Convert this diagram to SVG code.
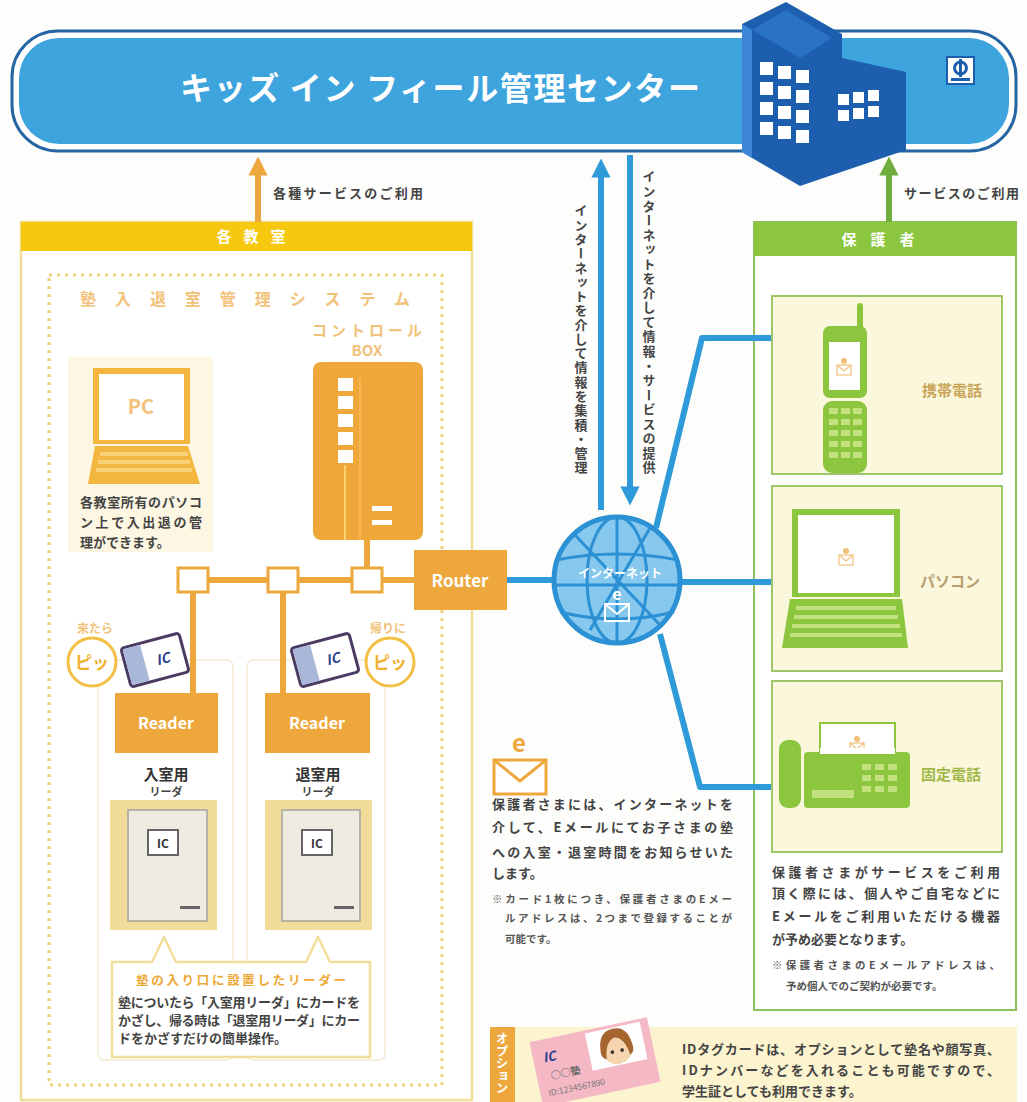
<svg xmlns="http://www.w3.org/2000/svg" width="1027" height="1102" viewBox="0 0 1027 1102">
  <defs>
    <style>
      text { font-family: "Noto Sans CJK JP", "Noto Sans", sans-serif; }
      .body { fill: #444; font-size: 13px; font-weight: 700; }
      .note { fill: #555; font-size: 10.5px; font-weight: 700; }
      .hdr { fill: #fff; font-size: 15px; font-weight: 700; }
      .lightor { fill: #f2c27a; font-weight: 700; }
      .conn-o { stroke: #eea73c; stroke-width: 6; fill: none; }
      .conn-b { stroke: #2e9ad9; stroke-width: 6; fill: none; stroke-linejoin: round; }
      .junc { fill: #fff; stroke: #eea73c; stroke-width: 3; }
      .card { fill: #fbf7dc; stroke: #9cc66a; stroke-width: 2; }
      .dev-label { font-size: 15px; font-weight: 700; }
      .key { fill: #c3e27f; }
    </style>
    <marker id="head-o" viewBox="0 0 10 10" refX="5" refY="5" markerWidth="3.2" markerHeight="3.2" orient="auto">
      <path d="M0,0 L10,5 L0,10 Z" fill="#eea73c"/>
    </marker>
    <marker id="head-b" viewBox="0 0 10 10" refX="5" refY="5" markerWidth="3.2" markerHeight="3.2" orient="auto">
      <path d="M0,0 L10,5 L0,10 Z" fill="#2e9ad9"/>
    </marker>
    <marker id="head-g" viewBox="0 0 10 10" refX="5" refY="5" markerWidth="3.2" markerHeight="3.2" orient="auto">
      <path d="M0,0 L10,5 L0,10 Z" fill="#6fae3c"/>
    </marker>
    <g id="mail-small">
      <rect x="-7" y="-5" width="14" height="10" fill="#fff" stroke="#f0c07a" stroke-width="1.2"/>
      <path d="M-7,-5 L0,1 L7,-5" fill="none" stroke="#f0c07a" stroke-width="1.2"/>
      <circle cx="0" cy="-9" r="3" fill="#f0c07a"/>
    </g>
  </defs>

  <rect width="1027" height="1102" fill="#fdfdfb"/>

  <!-- management center banner -->
  <g id="center">
    <rect x="12" y="31" width="1004" height="120" rx="46" fill="#fff" stroke="#2565a3" stroke-width="3"/>
    <rect x="19" y="38" width="990" height="106" rx="40" fill="#3ea4de"/>
    <text x="180" y="100" fill="#fff" font-size="32" font-weight="700" textLength="520">キッズ イン フィール管理センター</text>
    <!-- building -->
    <path d="M742,24 L786,2 L842,34 L842,58 L906,72 L906,150 L800,186 L742,152 Z" fill="#1d5fae"/>
    <path d="M742,24 L752,30 L752,158 L742,152 Z" fill="#3d86d6"/>
    <path d="M752,30 L786,10 L832,38 L800,58 Z" fill="#2a72c4"/>
    <g fill="#fff">
      <rect x="760" y="62" width="13" height="13"/><rect x="778" y="66" width="13" height="13"/><rect x="796" y="70" width="13" height="13"/>
      <rect x="760" y="82" width="13" height="13"/><rect x="778" y="86" width="13" height="13"/><rect x="796" y="90" width="13" height="13"/>
      <rect x="760" y="102" width="13" height="13"/><rect x="778" y="106" width="13" height="13"/><rect x="796" y="110" width="13" height="13"/>
      <rect x="760" y="122" width="13" height="13"/><rect x="778" y="126" width="13" height="13"/><rect x="796" y="130" width="13" height="13"/>
      <rect x="838" y="94" width="11" height="11"/><rect x="853" y="92" width="11" height="11"/><rect x="868" y="90" width="11" height="11"/>
      <rect x="838" y="110" width="11" height="11"/><rect x="853" y="108" width="11" height="11"/><rect x="868" y="106" width="11" height="11"/>
    </g>
    <!-- logo -->
    <rect x="947" y="57" width="27" height="27" fill="#fff" stroke="#1d5fae" stroke-width="2"/>
    <circle cx="960.5" cy="68" r="6" fill="none" stroke="#1d5fae" stroke-width="3"/>
    <rect x="959" y="59" width="3" height="18" fill="#1d5fae"/>
    <rect x="951" y="78" width="19" height="3" fill="#1d5fae"/>
  </g>

  <!-- school panel (background layer) -->
  <g id="school">
    <rect x="21" y="222" width="451" height="878" fill="#fff" stroke="#f1de96" stroke-width="2.5"/>
    <rect x="21" y="222" width="451" height="29" fill="#f6c80f"/>
    <text x="257" y="242" class="hdr" text-anchor="middle" letter-spacing="12">各教室</text>
  </g>

  <g id="entry-system">
    <rect x="49" y="275" width="393" height="810" fill="none" stroke="#f0d27a" stroke-width="3" stroke-dasharray="3 5"/>
    <text x="80" y="305" class="lightor" font-size="16" textLength="330">塾入退室管理システム</text>
    <rect x="98" y="660" width="135" height="400" rx="6" fill="none" stroke="#f3ead0" stroke-width="1.5"/>
    <rect x="247" y="660" width="138" height="400" rx="6" fill="none" stroke="#f3ead0" stroke-width="1.5"/>
  </g>

  <!-- guardian panel (background layer) -->
  <g id="guardian">
    <rect x="754" y="222" width="262" height="788" fill="#fff" stroke="#8dbf5a" stroke-width="2"/>
    <rect x="754" y="222" width="262" height="34" fill="#8cc63f"/>
    <text x="885" y="245" class="hdr" text-anchor="middle" letter-spacing="14">保護者</text>
    <text x="772" y="877" class="body" font-size="14" textLength="228">保護者さまがサービスをご利用</text>
    <text x="772" y="898" class="body" font-size="14" textLength="228">頂く際には、個人やご自宅などに</text>
    <text x="772" y="921" class="body" font-size="14" textLength="228">Eメールをご利用いただける機器</text>
    <text x="772" y="944" class="body" font-size="14">が予め必要となります。</text>
    <text x="772" y="969" class="note" textLength="228">※保護者さまのEメールアドレスは、</text>
    <text x="786" y="990" class="note">予め個人でのご契約が必要です。</text>
  </g>

  <!-- connectors -->
  <g id="connectors">
    <path class="conn-o" d="M258,222 V166" marker-end="url(#head-o)"/>
    <path d="M889,222 V166" stroke="#6fae3c" stroke-width="6" fill="none" marker-end="url(#head-g)"/>
    <path class="conn-b" d="M601,510 V168" marker-end="url(#head-b)"/>
    <path class="conn-b" d="M630,155 V496" marker-end="url(#head-b)"/>
    <path class="conn-o" d="M193,580 H416"/>
    <path class="conn-o" d="M367,540 V568"/>
    <path class="conn-o" d="M193,592 V693"/>
    <path class="conn-o" d="M283,592 V693"/>
    <path class="conn-b" d="M507,580 H556"/>
    <path class="conn-b" d="M656,528 L702,338 H826"/>
    <path class="conn-b" d="M680,582 H773"/>
    <path class="conn-b" d="M660,634 L700,787 H773"/>
  </g>

  <!-- connector labels -->
  <g id="connector-labels">
    <text x="273" y="198" class="body" font-size="12" textLength="150">各種サービスのご利用</text>
    <text x="904" y="198" class="body" font-size="12" textLength="115">サービスのご利用</text>
    <text x="581" y="204" class="body" font-size="13.5" style="writing-mode: vertical-rl" textLength="270">インターネットを介して情報を集積・管理</text>
    <text x="649" y="170" class="body" font-size="13.5" style="writing-mode: vertical-rl" textLength="304">インターネットを介して情報・サービスの提供</text>
  </g>

  <g id="pc">
    <rect x="68" y="357" width="145" height="195" fill="#fcf6e2"/>
    <rect x="93" y="368" width="97" height="76" fill="#f3b63f"/>
    <rect x="99" y="374" width="85" height="66" fill="#fff"/>
    <text x="141" y="414" class="lightor" font-size="20" text-anchor="middle">PC</text>
    <path d="M95,446 H188 L200,484 H88 Z" fill="#f3b63f"/>
    <g fill="#f8d078">
      <rect x="100" y="452" width="88" height="4"/><rect x="98" y="460" width="92" height="4"/><rect x="96" y="468" width="96" height="4"/>
    </g>
    <text x="80" y="507" class="body" font-size="12.5" textLength="122">各教室所有のパソコ</text>
    <text x="80" y="527" class="body" font-size="12.5" textLength="122">ン上で入出退の管</text>
    <text x="80" y="547" class="body" font-size="12.5">理ができます。</text>
  </g>

  <g id="control-box">
    <text x="367" y="336" class="lightor" font-size="15" text-anchor="middle" textLength="110">コントロール</text>
    <text x="367" y="356" class="lightor" font-size="15" text-anchor="middle">BOX</text>
    <rect x="313" y="362" width="110" height="178" rx="8" fill="#f0a73a"/>
    <g fill="#fff">
      <rect x="338" y="378" width="15" height="13"/><rect x="338" y="396" width="15" height="13"/><rect x="338" y="414" width="15" height="13"/>
      <rect x="338" y="432" width="15" height="13"/><rect x="338" y="450" width="15" height="13"/>
      <rect x="372" y="506" width="20" height="5"/><rect x="372" y="520" width="20" height="5"/>
    </g>
    <path d="M345,465 V540" stroke="#f8d070" stroke-width="2"/>
    <path d="M360,378 V540" stroke="#f5bd5c" stroke-width="1.5"/>
  </g>

  <g id="junctions">
    <rect x="178" y="568" width="30" height="24" class="junc"/>
    <rect x="268" y="568" width="30" height="24" class="junc"/>
    <rect x="352" y="568" width="30" height="24" class="junc"/>
  </g>

  <g id="router">
    <rect x="414" y="550" width="93" height="60" fill="#eea73c"/>
    <text x="460" y="587" fill="#fff" font-size="17" font-weight="700" text-anchor="middle">Router</text>
  </g>

  <g id="reader-in">
    <text x="95" y="633" class="lightor" font-size="12" text-anchor="middle">来たら</text>
    <circle cx="92" cy="662" r="24" fill="#fff" stroke="#f3bf45" stroke-width="3"/>
    <text x="92" y="669" fill="#f0b030" font-size="17" font-weight="700" text-anchor="middle">ピッ</text>
    <g transform="translate(155,660) rotate(-15)">
      <rect x="-30" y="-20" width="60" height="40" rx="3" fill="#fff" stroke="#4b3b62" stroke-width="3"/>
      <rect x="-28.5" y="-18.5" width="18" height="37" fill="#a9b8d8"/>
      <text x="8" y="6" fill="#2c3f8f" font-size="14" font-weight="700" text-anchor="middle" font-style="italic">IC</text>
    </g>
    <rect x="115" y="693" width="103" height="60" fill="#eea73c"/>
    <text x="166" y="729" fill="#fff" font-size="16" font-weight="700" text-anchor="middle">Reader</text>
    <text x="166" y="780" fill="#333" font-size="15" font-weight="700" text-anchor="middle">入室用</text>
    <text x="166" y="796" fill="#444" font-size="11" font-weight="700" text-anchor="middle">リーダ</text>
    <rect x="110" y="800" width="107" height="130" fill="#f2dc9a"/>
    <rect x="128" y="810" width="79" height="111" fill="#eeebe2" stroke="#b8b2a2" stroke-width="2"/>
    <rect x="148" y="830" width="30" height="25" fill="#fff" stroke="#666" stroke-width="2"/>
    <text x="163" y="848" fill="#333" font-size="12" font-weight="700" text-anchor="middle">IC</text>
    <rect x="180" y="906" width="20" height="3" fill="#666"/>
  </g>

  <g id="reader-out">
    <text x="388" y="633" class="lightor" font-size="12" text-anchor="middle">帰りに</text>
    <circle cx="390" cy="662" r="24" fill="#fff" stroke="#f3bf45" stroke-width="3"/>
    <text x="390" y="669" fill="#f0b030" font-size="17" font-weight="700" text-anchor="middle">ピッ</text>
    <g transform="translate(325,660) rotate(-15)">
      <rect x="-30" y="-20" width="60" height="40" rx="3" fill="#fff" stroke="#4b3b62" stroke-width="3"/>
      <rect x="-28.5" y="-18.5" width="18" height="37" fill="#a9b8d8"/>
      <text x="8" y="6" fill="#2c3f8f" font-size="14" font-weight="700" text-anchor="middle" font-style="italic">IC</text>
    </g>
    <rect x="265" y="693" width="105" height="60" fill="#eea73c"/>
    <text x="317" y="729" fill="#fff" font-size="16" font-weight="700" text-anchor="middle">Reader</text>
    <text x="318" y="780" fill="#333" font-size="15" font-weight="700" text-anchor="middle">退室用</text>
    <text x="318" y="796" fill="#444" font-size="11" font-weight="700" text-anchor="middle">リーダ</text>
    <rect x="265" y="800" width="107" height="130" fill="#f2dc9a"/>
    <rect x="282" y="810" width="78" height="111" fill="#eeebe2" stroke="#b8b2a2" stroke-width="2"/>
    <rect x="302" y="830" width="30" height="25" fill="#fff" stroke="#666" stroke-width="2"/>
    <text x="317" y="848" fill="#333" font-size="12" font-weight="700" text-anchor="middle">IC</text>
    <rect x="334" y="906" width="20" height="3" fill="#666"/>
  </g>

  <g id="reader-note">
    <path d="M112,962 H152 L164,937 L176,962 H306 L318,937 L330,962 H370 V1057 H112 Z" fill="#fff" stroke="#f1de9a" stroke-width="2.5" stroke-linejoin="round"/>
    <text x="241" y="985" fill="#eba835" font-size="12.5" font-weight="700" text-anchor="middle" textLength="210">塾の入り口に設置したリーダー</text>
    <text x="118" y="1007" class="body" font-size="12" textLength="242">塾についたら「入室用リーダ」にカードを</text>
    <text x="118" y="1025" class="body" font-size="12" textLength="242">かざし、帰る時は「退室用リーダ」にカー</text>
    <text x="118" y="1043" class="body" font-size="12">ドをかざすだけの簡単操作。</text>
  </g>

  <!-- internet globe -->
  <g id="internet">
    <circle cx="617" cy="580" r="63" fill="#86c8ee" stroke="#2b90d4" stroke-width="5"/>
    <g fill="none" stroke="#2b90d4" stroke-width="3">
      <ellipse cx="617" cy="580" rx="30" ry="63"/>
      <path d="M617,517 V643"/>
      <path d="M556,560 Q617,548 678,560"/>
      <path d="M554,585 H680"/>
      <path d="M560,612 Q617,626 674,612"/>
      <path d="M575,535 L660,625"/>
      <path d="M650,528 L590,630"/>
    </g>
    <text x="620" y="578" fill="#fff" font-size="12" font-weight="700" text-anchor="middle">インターネット</text>
    <text x="617" y="600" fill="#fff" font-size="16" font-weight="700" text-anchor="middle">e</text>
    <rect x="605" y="604" width="24" height="17" fill="none" stroke="#fff" stroke-width="2"/>
    <path d="M605,604 L617,614 L629,604" fill="none" stroke="#fff" stroke-width="2"/>
  </g>

  <!-- email notice -->
  <g id="mail-notice">
    <text x="519" y="752" fill="#eea73c" font-size="24" font-weight="700" text-anchor="middle">e</text>
    <rect x="494" y="760" width="52" height="34" fill="#fff" stroke="#eea73c" stroke-width="3"/>
    <path d="M494,760 L520,781 L546,760" fill="none" stroke="#eea73c" stroke-width="3"/>
    <text x="492" y="809" class="body" font-size="14" textLength="241">保護者さまには、インターネットを</text>
    <text x="492" y="832" class="body" font-size="14" textLength="241">介して、Eメールにてお子さまの塾</text>
    <text x="492" y="857" class="body" font-size="14" textLength="241">への入室・退室時間をお知らせいた</text>
    <text x="492" y="878" class="body" font-size="14">します。</text>
    <text x="492" y="903" class="note" textLength="240">※カード1枚につき、保護者さまのEメー</text>
    <text x="505" y="922" class="note" textLength="227">ルアドレスは、2つまで登録することが</text>
    <text x="505" y="943" class="note">可能です。</text>
  </g>

  <g id="mobile">
    <rect x="772" y="296" width="230" height="178" class="card"/>
    <rect x="857" y="303" width="6" height="30" rx="3" fill="#8cc63f"/>
    <rect x="823" y="326" width="44" height="72" rx="7" fill="#8cc63f"/>
    <rect x="829" y="342" width="31" height="48" fill="#fff"/>
    <use href="#mail-small" x="844" y="370"/>
    <rect x="823" y="401" width="44" height="72" rx="9" fill="#8cc63f"/>
    <g class="key">
      <rect x="829" y="408" width="9" height="6"/><rect x="841" y="408" width="9" height="6"/><rect x="853" y="408" width="9" height="6"/>
      <rect x="829" y="419" width="9" height="6"/><rect x="841" y="419" width="9" height="6"/><rect x="853" y="419" width="9" height="6"/>
      <rect x="829" y="430" width="9" height="6"/><rect x="841" y="430" width="9" height="6"/><rect x="853" y="430" width="9" height="6"/>
      <rect x="829" y="441" width="9" height="6"/><rect x="841" y="441" width="9" height="6"/><rect x="853" y="441" width="9" height="6"/>
      <rect x="829" y="452" width="9" height="6"/><rect x="841" y="452" width="9" height="6"/><rect x="853" y="452" width="9" height="6"/>
    </g>
    <text x="952" y="396" class="dev-label" fill="#c9a55a" text-anchor="middle">携帯電話</text>
  </g>

  <g id="laptop">
    <rect x="772" y="486" width="230" height="185" class="card"/>
    <rect x="792" y="509" width="108" height="88" fill="#8cc63f"/>
    <rect x="798" y="515" width="96" height="78" fill="#fff"/>
    <use href="#mail-small" x="846" y="560"/>
    <path d="M790,599 H902 L908,648 H782 Z" fill="#8cc63f"/>
    <g class="key">
      <rect x="796" y="606" width="100" height="4"/><rect x="794" y="615" width="104" height="4"/>
      <rect x="792" y="624" width="108" height="4"/><rect x="790" y="633" width="112" height="4"/>
    </g>
    <text x="950" y="587" class="dev-label" fill="#b69e70" text-anchor="middle">パソコン</text>
  </g>

  <g id="fixed-phone">
    <rect x="772" y="681" width="230" height="171" class="card"/>
    <rect x="820" y="723" width="75" height="44" fill="#fff" stroke="#8cc63f" stroke-width="2"/>
    <use href="#mail-small" x="857" y="748"/>
    <rect x="779" y="740" width="22" height="68" rx="9" fill="#8cc63f"/>
    <rect x="804" y="752" width="106" height="56" rx="4" fill="#8cc63f"/>
    <rect x="820" y="748" width="75" height="6" fill="#fff"/>
    <g class="key">
      <rect x="862" y="764" width="9" height="6"/><rect x="875" y="764" width="9" height="6"/><rect x="888" y="764" width="9" height="6"/>
      <rect x="862" y="775" width="9" height="6"/><rect x="875" y="775" width="9" height="6"/><rect x="888" y="775" width="9" height="6"/>
      <rect x="862" y="786" width="9" height="6"/><rect x="875" y="786" width="9" height="6"/><rect x="888" y="786" width="9" height="6"/>
      <rect x="812" y="790" width="42" height="8"/>
    </g>
    <text x="951" y="780" class="dev-label" fill="#a3b84a" text-anchor="middle">固定電話</text>
  </g>

  <!-- option -->
  <g id="option">
    <rect x="490" y="1027" width="527" height="75" fill="#fbf4cf"/>
    <rect x="490" y="1027" width="25" height="75" fill="#eea73c"/>
    <text x="502" y="1032" fill="#fff" font-size="12.5" font-weight="700" style="writing-mode: vertical-rl">オプション</text>
    <g transform="translate(595,1062) rotate(-12)">
      <rect x="-60" y="-33" width="120" height="66" fill="#f5b9c5"/>
      <rect x="-4" y="-30" width="56" height="38" fill="#fff"/>
      <circle cx="24" cy="-8" r="15" fill="#f6d4ad"/>
      <path d="M8,-12 Q10,-29 24,-29 Q38,-29 40,-12 Q42,-2 36,0 Q34,-18 24,-20 Q14,-18 12,0 Q6,-2 8,-12 Z" fill="#a5652f"/>
      <circle cx="19" cy="-6" r="1.8" fill="#333"/><circle cx="29" cy="-6" r="1.8" fill="#333"/>
      <text x="-50" y="-10" fill="#2c3f8f" font-size="13" font-weight="700" font-style="italic">IC</text>
      <text x="-46" y="8" fill="#666" font-size="10" font-weight="700">○○塾</text>
      <text x="-52" y="24" fill="#777" font-size="8.5">ID:1234567890</text>
    </g>
    <text x="682" y="1054" class="body" font-size="13" textLength="318">IDタグカードは、オプションとして塾名や顔写真、</text>
    <text x="682" y="1075" class="body" font-size="13" textLength="318">IDナンバーなどを入れることも可能ですので、</text>
    <text x="682" y="1096" class="body" font-size="13">学生証としても利用できます。</text>
  </g>
</svg>
